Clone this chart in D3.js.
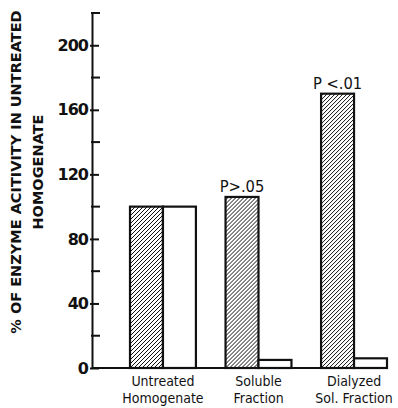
<!DOCTYPE html>
<html>
<head>
<meta charset="utf-8">
<script src="https://cdn.jsdelivr.net/npm/d3@7"></script>
<style>
  body { margin: 0; background: #fff; }
  svg { display: block; }
  text { font-family: "DejaVu Sans", sans-serif; fill: #111; }
</style>
</head>
<body>
<div id="chart"></div>
<script>
// data
const groups = ["Untreated|Homogenate", "Soluble|Fraction", "Dialyzed|Sol. Fraction"]
const hatchedValues = [100, 106, 170]
const openValues = [100, 5, 6]
const pLabels = ["", "P>.05", "P <.01"]
const yTicks = [0, 40, 80, 120, 160, 200]
const yMinorTicks = [20, 60, 100, 140, 180, 220]

const width = 398, height = 408

const svg = d3.select("#chart").append("svg")
    .attr("width", width)
    .attr("height", height)

// diagonal hatch, rising to the right
svg.append("defs").append("pattern")
    .attr("id", "hatch")
    .attr("patternUnits", "userSpaceOnUse")
    .attr("width", 4)
    .attr("height", 4)
  .append("path")
    .attr("d", "M-1,1 l2,-2 M0,4 l4,-4 M3,5 l2,-2")
    .attr("stroke", "#111")
    .attr("stroke-width", 1.4)
    .attr("shape-rendering", "crispEdges")

const axisX = 92

const y = d3.scaleLinear()
    .domain([0, 220])
    .range([368, 13])

const x = d3.scaleBand()
    .domain(groups)
    .range([130, 387])
    .paddingInner(0.31)
    .paddingOuter(0)

const xSub = d3.scaleBand()
    .domain(["hatched", "open"])
    .range([0, x.bandwidth()])

// y axis
const yAxis = svg.append("g")
    .attr("transform", `translate(${axisX},0)`)
    .call(d3.axisLeft(y)
        .tickValues(yTicks)
        .tickSizeInner(-7)
        .tickSizeOuter(0)
        .tickPadding(4)
    )
yAxis.select(".domain").attr("stroke", "#111").attr("stroke-width", 2)
yAxis.selectAll(".tick line").attr("stroke", "#111").attr("stroke-width", 2)
  .attr("x1", -2)
yAxis.selectAll(".tick text")
    .style("font-size", "16px")
    .style("font-weight", "bold")
    .style("font-family", "'DejaVu Sans', sans-serif")
    .style("letter-spacing", "-1px")

// minor ticks
svg.append("g").selectAll("line")
  .data(yMinorTicks)
  .join("line")
    .attr("x1", axisX - 1)
    .attr("x2", axisX + 8)
    .attr("y1", d => y(d))
    .attr("y2", d => y(d))
    .attr("stroke", "#111")
    .attr("stroke-width", 2)

// baseline
svg.append("line")
    .attr("x1", axisX)
    .attr("x2", x.range()[1])
    .attr("y1", y(0))
    .attr("y2", y(0))
    .attr("stroke", "#111")
    .attr("stroke-width", 2)

// bars
const g = svg.append("g").selectAll("g")
  .data(groups)
  .join("g")
    .attr("transform", d => `translate(${x(d)},0)`)

g.append("rect")
    .attr("x", xSub("hatched"))
    .attr("width", xSub.bandwidth())
    .attr("y", (d, i) => y(hatchedValues[i]))
    .attr("height", (d, i) => y(0) - y(hatchedValues[i]))
    .attr("fill", "url(#hatch)")
    .attr("stroke", "#111")
    .attr("stroke-width", 2.2)

g.append("rect")
    .attr("x", xSub("open"))
    .attr("width", xSub.bandwidth())
    .attr("y", (d, i) => y(openValues[i]))
    .attr("height", (d, i) => y(0) - y(openValues[i]))
    .attr("fill", "#fff")
    .attr("stroke", "#111")
    .attr("stroke-width", 2.2)

// P values above hatched bars
g.append("text")
    .attr("transform", (d, i) => `translate(${xSub("hatched") + xSub.bandwidth() / 2},${y(hatchedValues[i]) - 5}) scale(0.92,1)`)
    .attr("text-anchor", "middle")
    .style("font-size", "16px")
    .text((d, i) => pLabels[i])

// category labels
g.each(function(d) {
    const lines = d.split("|")
    d3.select(this).selectAll(".cat")
      .data(lines)
      .join("text")
        .attr("class", "cat")
        .attr("transform", (l, j) => `translate(${x.bandwidth() / 2},${386 + j * 17}) scale(0.9,1)`)
        .attr("text-anchor", "middle")
        .style("font-size", "14px")
        .text(l => l)
})

// y axis title
const title = svg.append("g")
    .attr("transform", "translate(0,172) rotate(-90)")
title.append("text")
    .attr("x", 0).attr("y", 21)
    .attr("text-anchor", "middle")
    .style("font-size", "14.5px")
    .style("font-weight", "bold")
    .text("% OF ENZYME ACITIVITY IN UNTREATED")
title.append("text")
    .attr("x", 0).attr("y", 42.5)
    .attr("text-anchor", "middle")
    .style("font-size", "14.5px")
    .style("font-weight", "bold")
    .text("HOMOGENATE")
</script>
</body>
</html>
